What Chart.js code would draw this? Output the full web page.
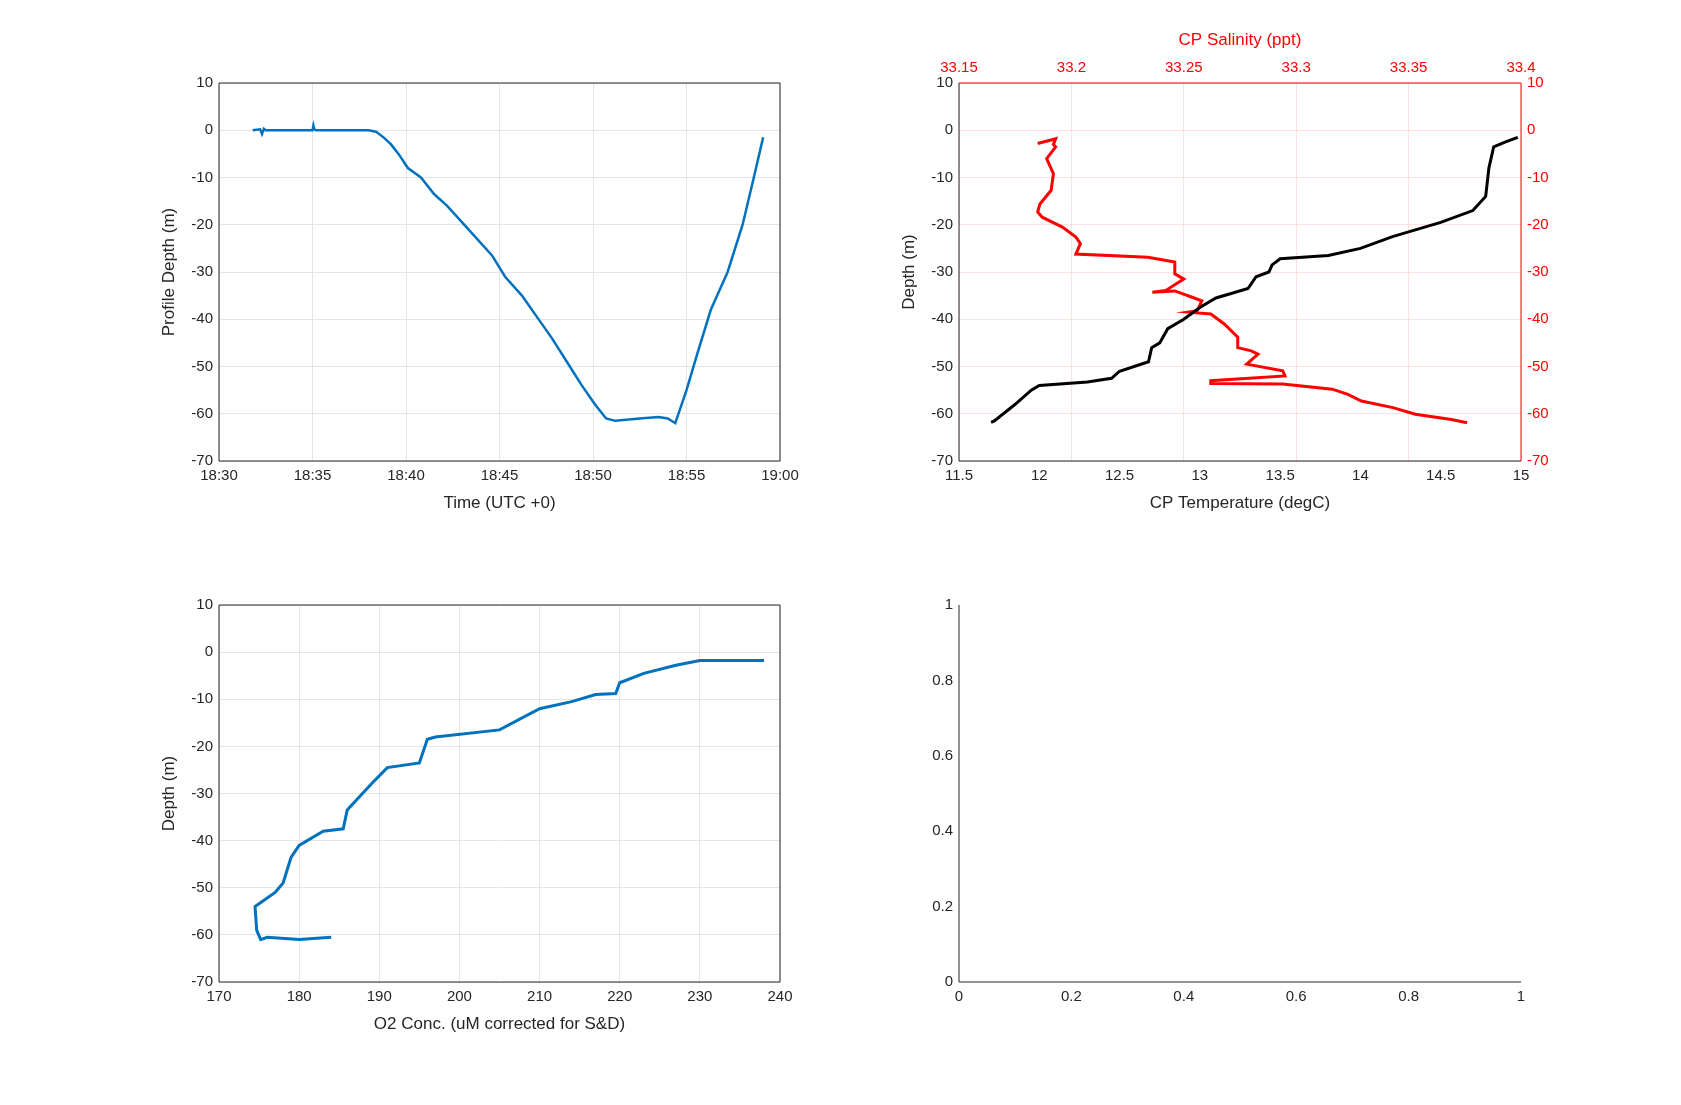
<!DOCTYPE html>
<html><head><meta charset="utf-8">
<script src="https://cdn.jsdelivr.net/npm/chart.js@4.4.1/dist/chart.umd.min.js"></script>
<style>
body{margin:0;background:#fff;width:1681px;height:1105px;overflow:hidden;position:relative}
canvas{position:absolute}
</style></head><body>
<canvas id="c1"></canvas><canvas id="c2"></canvas><canvas id="c3"></canvas><canvas id="c4"></canvas>
<script>
// minutes after 18:30 vs profile depth
const timeMin = [1.8,2.2,2.3,2.4,2.5,4,5,5.05,5.1,5.2,7,8,8.4,8.8,9.2,9.6,10.1,10.8,11.5,12.2,13,13.8,14.6,15.3,16.2,17,17.8,18.6,19.4,20.1,20.7,21.2,22.5,23.5,24,24.4,25,25.6,26.3,27.2,28,28.6,29.1];
const timeDepth = [0,0.2,-0.8,0.3,0,0,0,1,0.2,0,0,0,-0.3,-1.5,-3,-5,-8,-10,-13.5,-16,-19.5,-23,-26.5,-31,-35,-39.5,-44,-49,-54,-58,-61,-61.5,-61,-60.7,-61,-62,-55,-47,-38,-30,-20,-10,-1.5];
// CP temperature profile
const tempVals = [14.98,14.9,14.83,14.8,14.78,14.7,14.5,14.2,14,13.8,13.5,13.45,13.43,13.35,13.3,13.2,13.1,13,12.9,12.8,12.75,12.7,12.68,12.5,12.45,12.3,12,11.95,11.85,11.72,11.7];
const tempDepth = [-1.5,-2.5,-3.5,-8,-14,-17,-19.5,-22.5,-25,-26.5,-27.2,-28.5,-30,-31,-33.5,-34.5,-35.5,-37.5,-40,-42,-45,-46,-49,-51,-52.5,-53.3,-54,-55,-58,-61.5,-61.8];
// CP salinity profile
const salVals = [33.185,33.193,33.192,33.193,33.189,33.192,33.191,33.186,33.185,33.187,33.196,33.202,33.204,33.202,33.234,33.246,33.246,33.250,33.242,33.236,33.246,33.254,33.258,33.256,33.252,33.262,33.268,33.274,33.274,33.280,33.283,33.278,33.294,33.295,33.262,33.262,33.294,33.316,33.323,33.329,33.343,33.353,33.369,33.376];
const salDepth = [-2.8,-1.8,-3.0,-3.5,-6,-9.2,-12.7,-15.6,-17.3,-18.4,-20.5,-22.6,-24,-26.2,-26.9,-27.9,-30.4,-31.5,-33.9,-34.3,-34.0,-35.4,-36.1,-38.2,-38.5,-38.9,-41,-43.8,-46,-46.7,-47.4,-49.5,-50.9,-52,-53,-53.6,-53.7,-54.8,-55.9,-57.3,-58.7,-60.1,-61.2,-61.9];
// O2 concentration profile
const o2Vals = [238,230,227,223,220,219.5,217,214,210,205,197,196,195,191,189,186,185.5,183,180,179,178,177,174.5,174.7,175.2,176,180,184];
const o2Depth = [-1.8,-1.8,-2.8,-4.5,-6.5,-8.8,-9,-10.5,-12,-16.5,-18,-18.5,-23.5,-24.5,-28,-33.5,-37.5,-38,-41,-43.5,-49,-51,-54,-59,-61,-60.5,-61,-60.5];

const FONT = {family:'"Liberation Sans", Arial, sans-serif', size:15};
const TFONT = {family:'"Liberation Sans", Arial, sans-serif', size:17};
const pts = (xs, ys) => xs.map((x, i) => ({x, y: ys[i]}));

const boxPlugin = {
  id:'box',
  afterDraw(ch, a, o){
    const {left,top,right,bottom} = ch.chartArea, c = ch.ctx;
    c.save(); c.lineWidth = 1;
    c.strokeStyle = '#262626';
    c.beginPath(); c.moveTo(left,top); c.lineTo(left,bottom); c.lineTo(right,bottom); c.stroke();
    if (!o.open) {
      c.strokeStyle = o.topRight || '#262626';
      c.beginPath(); c.moveTo(left,top); c.lineTo(right,top); c.lineTo(right,bottom); c.stroke();
    }
    c.restore();
  }
};

function place(id, L, T, W, H){
  const cv = document.getElementById(id);
  cv.style.left = (L-62)+'px'; cv.style.top = (T-55)+'px';
  cv.style.width = (W+132)+'px'; cv.style.height = (H+110)+'px';
  cv.width = W+132; cv.height = H+110;
  return cv;
}
function axis(pos, min, max, step, title, color, grid, cb){
  const o = {
    type:'linear', position:pos, min, max,
    border:{display:false},
    grid:{display:!!grid, color:grid || '#e5e5e5', drawTicks:false},
    ticks:{stepSize:step, color, font:FONT, padding:6, maxRotation:0, autoSkip:false},
    title:{display:!!title, text:title, color, font:TFONT, padding:2},
    afterFit(s){ if (pos==='left') s.width = 62; else if (pos==='right') s.width = 70; else s.height = 55; }
  };
  if (cb) o.ticks.callback = cb;
  return o;
}
const base = (pad) => ({responsive:false, animation:false, layout:{padding:pad}});
const yFmt = v => Math.round(v).toString();

// 1: depth vs time
new Chart(place('c1',219,83,561,378), {
  type:'line',
  data:{datasets:[
    {data:pts(timeMin,timeDepth), borderColor:'#0072bd', borderWidth:2.5, pointRadius:0, tension:0}
  ]},
  options:{...base({top:55,right:70}), scales:{
    x:axis('bottom',0,30,5,'Time (UTC +0)','#262626','#e5e5e5', v => v===30 ? '19:00' : '18:'+String(30+v)),
    y:axis('left',-70,10,10,'Profile Depth (m)','#262626','#e5e5e5', yFmt)
  }, plugins:{legend:{display:false}, tooltip:{enabled:false}, box:{}}},
  plugins:[boxPlugin]
});

// 2: temperature & salinity
new Chart(place('c2',959,83,562,378), {
  type:'line',
  data:{datasets:[
    {data:pts(tempVals,tempDepth), borderColor:'#000', borderWidth:3, pointRadius:0, xAxisID:'x', yAxisID:'y'},
    {data:pts(salVals,salDepth), borderColor:'#ff0000', borderWidth:3, pointRadius:0, xAxisID:'x2', yAxisID:'y2'}
  ]},
  options:{...base(0), scales:{
    x:axis('bottom',11.5,15,0.5,'CP Temperature (degC)','#262626',null, v => String(+v.toFixed(1))),
    y:axis('left',-70,10,10,'Depth (m)','#262626',null, yFmt),
    x2:axis('top',33.15,33.4,0.05,'CP Salinity (ppt)','#ff0000','rgba(255,0,0,0.12)', v => String(+v.toFixed(2))),
    y2:axis('right',-70,10,10,'','#ff0000','rgba(255,0,0,0.12)', yFmt)
  }, plugins:{legend:{display:false}, tooltip:{enabled:false}, box:{topRight:'#ff0000'}}},
  plugins:[boxPlugin]
});

// 3: O2
new Chart(place('c3',219,605,561,377), {
  type:'line',
  data:{datasets:[
    {data:pts(o2Vals,o2Depth), borderColor:'#0072bd', borderWidth:3, pointRadius:0}
  ]},
  options:{...base({top:55,right:70}), scales:{
    x:axis('bottom',170,240,10,'O2 Conc. (uM corrected for S&D)','#262626','#e5e5e5'),
    y:axis('left',-70,10,10,'Depth (m)','#262626','#e5e5e5', yFmt)
  }, plugins:{legend:{display:false}, tooltip:{enabled:false}, box:{}}},
  plugins:[boxPlugin]
});

// 4: empty axes
new Chart(place('c4',959,605,562,377), {
  type:'line',
  data:{datasets:[{data:[]}]},
  options:{...base({top:55,right:70}), scales:{
    x:axis('bottom',0,1,0.2,'','#262626',null, v => String(+v.toFixed(1))),
    y:axis('left',0,1,0.2,'','#262626',null, v => String(+v.toFixed(1)))
  }, plugins:{legend:{display:false}, tooltip:{enabled:false}, box:{open:true}}},
  plugins:[boxPlugin]
});
</script>
</body></html>
